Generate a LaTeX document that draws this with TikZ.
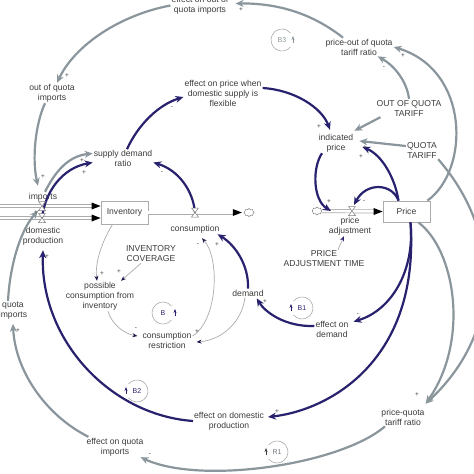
\documentclass[tikz,border=0pt]{standalone}
\usepackage{fontspec}
\setmainfont{Liberation Sans}
\usetikzlibrary{arrows.meta,shapes.symbols,calc}
\definecolor{navy}{RGB}{40,34,110}
\definecolor{gline}{RGB}{138,150,156}
\definecolor{tline}{RGB}{172,172,172}
\definecolor{txt}{RGB}{60,60,60}
\begin{document}
\begin{tikzpicture}[x=1pt,y=-1pt,
  lbl/.style={text=txt, align=center, inner sep=1pt, font=\fontsize{8.6}{10}\selectfont},
  sgn/.style={text=txt, inner sep=0pt, font=\fontsize{6.5}{6.5}\selectfont},
  garr/.style={draw=gline, line width=2.2pt, -{Stealth[length=8pt,width=7pt]}},
  narr/.style={draw=navy, line width=2.2pt, -{Stealth[length=8pt,width=7pt]}},
  tarr/.style={draw=tline, line width=0.7pt, -{Stealth[length=5pt,width=4pt,color=navy!70!black]}},
  pipe/.style={draw=tline, double=white, double distance=2.6pt, line width=0.7pt},
  boxnode/.style={draw=tline, fill=white, line width=0.8pt, text=txt, font=\fontsize{8.6}{10}\selectfont},
  loopc/.style={draw=tline, line width=0.6pt},
  loopl/.style={inner sep=0pt, font=\fontsize{7}{7}\selectfont},
  cloudn/.style={cloud, cloud puffs=8, draw=txt!80, line width=0.4pt, minimum width=10pt, minimum height=8pt, inner sep=0pt},
  valvepic/.pic={\draw[draw=gray, fill=white, line width=0.5pt] (-3.5,-4.5) -- (3.5,-4.5) -- (-3.5,4.5) -- (3.5,4.5) -- cycle;}
]
\useasboundingbox (0,0) rectangle (474,474);
\fill[white] (0,0) rectangle (474,474);

% ---------- nodes ----------
\node[lbl] (eooq) at (200,5.5) {effect on out of\\quota imports};
\node[lbl] (pooq) at (359,47) {price-out of quota\\tariff ratio};
\node[lbl] (ooqt) at (409,108) {OUT OF QUOTA\\TARIFF};
\node[lbl] (ip) at (336,143) {indicated\\price};
\node[lbl] (qt) at (422,150) {QUOTA\\TARIFF};
\node[lbl] (epf) at (223,93) {effect on price when\\domestic supply is\\flexible};
\node[lbl] (ooqi) at (52,93) {out of quota\\imports};
\node[lbl] (sdr) at (123,158.5) {supply demand\\ratio};
\node[lbl] (imp) at (43,197) {imports};
\node[boxnode, minimum width=47pt, minimum height=23pt] (inv) at (124.5,212.5) {Inventory};
\node[lbl] (dp) at (43,236) {domestic\\production};
\node[lbl] (cons) at (195,229) {consumption};
\node[lbl] (pa) at (350,226) {price\\adjustment};
\node[lbl] (pat) at (324,259) {PRICE\\ADJUSTMENT TIME};
\node[boxnode, minimum width=47pt, minimum height=21pt] (price) at (406.5,211.5) {Price};
\node[lbl] (ic) at (151,254) {INVENTORY\\COVERAGE};
\node[lbl] (pcfi) at (100,296) {possible\\consumption from\\inventory};
\node[lbl] (cr) at (167,340) {consumption\\restriction};
\node[lbl] (dem) at (248,293) {demand};
\node[lbl] (eod) at (332,329) {effect on\\demand};
\node[lbl] (eodp) at (229,421) {effect on domestic\\production};
\node[lbl] (pqtr) at (403,417) {price-quota\\tariff ratio};
\node[lbl] (eqi) at (115,447) {effect on quota\\imports};
\node[lbl] (qi) at (13,311) {quota\\imports};

\coordinate (vimp) at (42,206);
\coordinate (vdp) at (42,218);
\coordinate (vcons) at (195,212.5);
\coordinate (vpa) at (352,211);
\coordinate (pain) at (331,211);
\coordinate (src1) at (-5,206);
\coordinate (src2) at (-5,218);
\coordinate (impin) at ($(inv.west)+(0,-6.5)$);
\coordinate (dpin) at ($(inv.west)+(0,5.5)$);
\node[cloudn] (c1) at (249,212.5) {};
\node[cloudn] (c2) at (317,211) {};

% ---------- pipes ----------
\draw[pipe, shorten >=8pt] (src1) -- (impin);
\fill[black] (impin) -- ++(-9,-3.5) -- ++(0,7) -- cycle;
\draw[pipe, shorten >=8pt] (src2) -- (dpin);
\fill[black] (dpin) -- ++(-9,-3.5) -- ++(0,7) -- cycle;
\draw[pipe, shorten >=10pt] (inv.east) -- (c1.west);
\fill[black] ([xshift=-2]c1.west) -- ++(-9,-3.5) -- ++(0,7) -- cycle;
\draw[pipe, shorten >=8pt] (c2.east) -- (price.west);
\fill[black] (price.west) -- ++(-9,-3.5) -- ++(0,7) -- cycle;

% ---------- gray connectors ----------
\draw[garr] (eooq.west) .. controls (120,15) and (75,45) .. ([xshift=5]ooqi.north);
\draw[garr] ([xshift=-16]pooq.north) .. controls (318,18) and (285,3) .. ([xshift=6,yshift=2]eooq.east);
\draw[garr] (ooqt.north) .. controls (407,82) and (395,66) .. ([xshift=-16]pooq.south east);
\draw[garr] ([xshift=-3]price.north east) .. controls (470,170) and (470,70) .. (pooq.east);
\draw[garr] ([xshift=5]ooqt.south west) -- ([yshift=2]ip.north east);
\draw[garr] ([yshift=4]qt.west) -- ([xshift=5,yshift=2]ip.east);
\draw[garr] ([xshift=-12]price.south east) .. controls (455,250) and (470,340) .. ([yshift=4]pqtr.north east);
\draw[garr] (qt.south east) .. controls (500,230) and (505,330) .. ([yshift=4]pqtr.north east);
\draw[garr] ([xshift=-18]pqtr.south) .. controls (340,465) and (200,485) .. ([xshift=-4]eqi.south east);
\draw[garr] ([xshift=3]eqi.north west) .. controls (45,415) and (15,370) .. ([yshift=-3]qi.south);
\draw[garr] ([xshift=-7]ooqi.south) .. controls (35,125) and (32,160) .. ([xshift=-5,yshift=6]imp.north);
\draw[garr] ([xshift=2]imp.north) .. controls (55,172) and (68,156) .. ([yshift=5]sdr.west);
\draw[garr] ([xshift=-5]qi.north) .. controls (10,262) and (22,228) .. ([xshift=-4,yshift=-5]vimp);

% ---------- navy connectors ----------
\draw[narr] ([xshift=4]sdr.north) .. controls (138,125) and (158,105) .. ([yshift=-4]epf.west);
\draw[narr] ([yshift=5]epf.east) .. controls (295,90) and (322,108) .. ([xshift=-6,yshift=3]ip.north);
\draw[narr] (vcons) .. controls (193,190) and (178,170) .. ([yshift=-4]sdr.east);
\draw[narr] (vdp) .. controls (45,192) and (62,168) .. ([yshift=-4]sdr.west);
\draw[narr] ([xshift=-14]ip.south) .. controls (312,168) and (313,200) .. (pain);
\draw[narr] ([xshift=-8]price.north) .. controls (392,183) and (366,182) .. ([xshift=2,yshift=6]vpa);
\draw[narr] ([xshift=-8]price.north) .. controls (395,178) and (382,155) .. ([xshift=8,yshift=-4]ip.east);
\draw[draw=tline, line width=0.7pt, -{Stealth[length=5pt,width=4pt,color=navy]}] ([xshift=14]pat.north) -- ([xshift=-6]pa.south);
\draw[narr] ([xshift=4]price.south) .. controls (415,270) and (392,310) .. ([xshift=4,yshift=-2]eod.north east);
\draw[narr] ([xshift=4]price.south) .. controls (420,360) and (330,410) .. ([xshift=3,yshift=4]eodp.east);
\draw[narr] ([yshift=3]eod.west) .. controls (285,327) and (265,312) .. ([xshift=-8,yshift=-1]dem.south east);
\draw[narr] (dem.north) .. controls (249,265) and (235,245) .. ([xshift=-3]cons.south east);
\draw[narr] (eodp.west) .. controls (110,415) and (40,340) .. ([yshift=-4]dp.south);

% ---------- thin connectors ----------
\draw[tarr] ([xshift=-12]inv.south) .. controls (100,245) and (95,265) .. ([xshift=-3]pcfi.north);
\draw[tarr] ([xshift=-10]ic.south) -- ([xshift=21]pcfi.north);
\draw[tarr] ([xshift=8]pcfi.south) .. controls (112,325) and (125,334) .. ([xshift=-4,yshift=4]cr.west);
\draw[tarr] ([yshift=4]cr.east) .. controls (218,320) and (220,258) .. ([xshift=7,yshift=-4]cons.south);
\draw[tarr] ([xshift=-3]dem.south) .. controls (242,322) and (222,340) .. ([xshift=4,yshift=-2]cr.east);

% ---------- valves ----------
\pic at (vimp) {valvepic};
\pic at (vdp) {valvepic};
\pic at (vcons) {valvepic};
\pic at (vpa) {valvepic};

% ---------- loop symbols ----------
\node[loopl, text=gline] (b3) at (282,40) {B3};
\draw[loopc] ([shift={(40:11pt)}]b3.center) arc[start angle=40, end angle=320, radius=11pt];
\draw[draw=gline, line width=0.6pt, -{Stealth[length=4pt,width=3pt]}] ([shift={(0:11pt)}]b3.center) ++(0,3) -- ++(0,-7);

\node[loopl, text=navy] (lb) at (163,313) {B};
\draw[loopc] ([shift={(40:11pt)}]lb.center) arc[start angle=40, end angle=320, radius=11pt];
\draw[draw=navy, line width=0.6pt, -{Stealth[length=4pt,width=3pt]}] ([shift={(0:12pt)}]lb.center) ++(0,3) -- ++(0,-7);

\node[loopl, text=navy] (lb1) at (302,308) {B1};
\draw[loopc] ([shift={(-140:11pt)}]lb1.center) arc[start angle=-140, end angle=140, radius=11pt];
\draw[draw=navy, line width=0.6pt, -{Stealth[length=4pt,width=3pt]}] ([shift={(180:11pt)}]lb1.center) ++(0,3) -- ++(0,-7);

\node[loopl, text=navy] (lb2) at (137,391) {B2};
\draw[loopc] ([shift={(-140:11pt)}]lb2.center) arc[start angle=-140, end angle=140, radius=11pt];
\draw[draw=navy, line width=0.6pt, -{Stealth[length=4pt,width=3pt]}] ([shift={(180:11pt)}]lb2.center) ++(0,3) -- ++(0,-7);

\node[loopl, text=gline!80!black] (lr1) at (277,452) {R1};
\draw[loopc] ([shift={(-140:11pt)}]lr1.center) arc[start angle=-140, end angle=140, radius=11pt];
\draw[draw=txt, line width=0.6pt, -{Stealth[length=4pt,width=3pt]}] ([shift={(180:11pt)}]lr1.center) ++(0,3) -- ++(0,-7);

% ---------- polarity signs ----------
\node[sgn] (s1) at (67,76) {+};
\node[sgn] (s2) at (241,10) {+};
\node[sgn] (s3) at (384,68) {-};
\node[sgn] (s4) at (403,56) {+};
\node[sgn] (s5) at (319,127) {+};
\node[sgn] (s6) at (172,108) {-};
\node[sgn] (s7) at (162,173) {-};
\node[sgn] (s8) at (82,161) {+};
\node[sgn] (s9) at (84,173) {+};
\node[sgn] (s10) at (43,177) {+};
\node[sgn] (s11) at (36,213) {+};
\node[sgn] (s12) at (47,257) {+};
\node[sgn] (s13) at (18,331) {+};
\node[sgn] (s14) at (150,455) {-};
\node[sgn] (s15) at (329,202) {+};
\node[sgn] (s16) at (364,202) {-};
\node[sgn] (s17) at (365,148) {+};
\node[sgn] (s18) at (361,157) {+};
\node[sgn] (s19) at (358,315) {-};
\node[sgn] (s20) at (277,412) {+};
\node[sgn] (s21) at (265,302) {+};
\node[sgn] (s22) at (217,245) {+};
\node[sgn] (s23) at (198,245) {-};
\node[sgn] (s24) at (102,274) {+};
\node[sgn] (s25) at (119,272) {+};
\node[sgn] (s26) at (136,329) {-};
\node[sgn] (s27) at (197,332) {+};
\node[sgn] (s28) at (417,395) {+};
\end{tikzpicture}
\end{document}
